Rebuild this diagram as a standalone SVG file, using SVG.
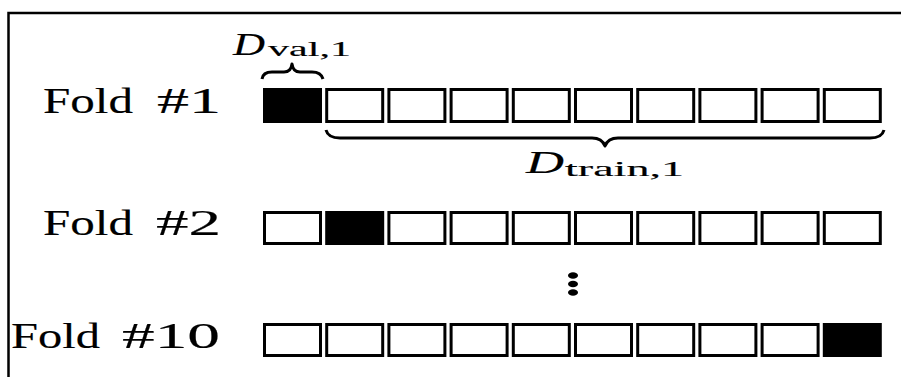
<svg xmlns="http://www.w3.org/2000/svg" width="901" height="377" viewBox="0 0 901 377">
<style>
.cell{fill:#fff;stroke:#000;stroke-width:3}
.val{fill:#000;stroke:#000;stroke-width:3}
.lbl{font-family:"Liberation Serif","DejaVu Serif",serif;font-size:36px;fill:#000;stroke:#000;stroke-width:0.15}
.math{font-family:"Liberation Serif","DejaVu Serif",serif;font-style:italic;font-size:31px;fill:#000;stroke:#000;stroke-width:0.15}
.sub{font-family:"Liberation Serif","DejaVu Serif",serif;font-size:21px;fill:#000;stroke:#000;stroke-width:0.15}
.brace{fill:none;stroke:#000;stroke-width:3;stroke-linejoin:round}
</style>
<rect width="901" height="377" fill="#fff"/>
<path d="M8.5,377 V13 H901" fill="none" stroke="#000" stroke-width="2.5"/>

<g id="fold1">
<text class="lbl" y="113"><tspan x="43" textLength="90" lengthAdjust="spacingAndGlyphs">Fold</tspan> <tspan x="157" textLength="64" lengthAdjust="spacingAndGlyphs">#1</tspan></text>
<rect class="val" x="264.5" y="89.5" width="56" height="32"/>
<rect class="cell" x="326.7" y="89.5" width="56" height="32"/>
<rect class="cell" x="388.9" y="89.5" width="56" height="32"/>
<rect class="cell" x="451.1" y="89.5" width="56" height="32"/>
<rect class="cell" x="513.3" y="89.5" width="56" height="32"/>
<rect class="cell" x="575.5" y="89.5" width="56" height="32"/>
<rect class="cell" x="637.7" y="89.5" width="56" height="32"/>
<rect class="cell" x="699.9" y="89.5" width="56" height="32"/>
<rect class="cell" x="762.1" y="89.5" width="56" height="32"/>
<rect class="cell" x="824.3" y="89.5" width="56" height="32"/>
</g>

<g id="dval">
<path class="brace" d="M262,79 Q263,72 272,72 L284,72 Q291,72 292,64 Q293,72 300,72 L312,72 Q321,72 323,79"/>
<text y="55"><tspan class="math" x="233" textLength="32" lengthAdjust="spacingAndGlyphs">D</tspan><tspan class="sub" x="268" y="56" textLength="83" lengthAdjust="spacingAndGlyphs">val,1</tspan></text>
</g>

<g id="dtrain">
<path class="brace" d="M326,130 Q328,138 340,138 L592,138 Q602,138 605,146 Q608,138 618,138 L870,138 Q882,138 884,130"/>
<text y="173"><tspan class="math" x="526" textLength="38" lengthAdjust="spacingAndGlyphs">D</tspan><tspan class="sub" x="565" y="176" textLength="119" lengthAdjust="spacingAndGlyphs">train,1</tspan></text>
</g>

<g id="fold2">
<text class="lbl" y="235"><tspan x="43" textLength="90" lengthAdjust="spacingAndGlyphs">Fold</tspan> <tspan x="156" textLength="65" lengthAdjust="spacingAndGlyphs">#2</tspan></text>
<rect class="cell" x="264.5" y="212.5" width="56" height="31"/>
<rect class="val" x="326.7" y="212.5" width="56" height="31"/>
<rect class="cell" x="388.9" y="212.5" width="56" height="31"/>
<rect class="cell" x="451.1" y="212.5" width="56" height="31"/>
<rect class="cell" x="513.3" y="212.5" width="56" height="31"/>
<rect class="cell" x="575.5" y="212.5" width="56" height="31"/>
<rect class="cell" x="637.7" y="212.5" width="56" height="31"/>
<rect class="cell" x="699.9" y="212.5" width="56" height="31"/>
<rect class="cell" x="762.1" y="212.5" width="56" height="31"/>
<rect class="cell" x="824.3" y="212.5" width="56" height="31"/>
</g>

<g id="vdots">
<ellipse cx="573" cy="275.5" rx="5" ry="3.3" fill="#000"/>
<ellipse cx="573" cy="284" rx="5" ry="3.3" fill="#000"/>
<ellipse cx="573" cy="292.5" rx="5" ry="3.3" fill="#000"/>
</g>

<g id="fold10">
<text class="lbl" y="348"><tspan x="11" textLength="89" lengthAdjust="spacingAndGlyphs">Fold</tspan> <tspan x="122" textLength="98" lengthAdjust="spacingAndGlyphs">#10</tspan></text>
<rect class="cell" x="264.5" y="324.5" width="56" height="31"/>
<rect class="cell" x="326.7" y="324.5" width="56" height="31"/>
<rect class="cell" x="388.9" y="324.5" width="56" height="31"/>
<rect class="cell" x="451.1" y="324.5" width="56" height="31"/>
<rect class="cell" x="513.3" y="324.5" width="56" height="31"/>
<rect class="cell" x="575.5" y="324.5" width="56" height="31"/>
<rect class="cell" x="637.7" y="324.5" width="56" height="31"/>
<rect class="cell" x="699.9" y="324.5" width="56" height="31"/>
<rect class="cell" x="762.1" y="324.5" width="56" height="31"/>
<rect class="val" x="824.3" y="324.5" width="56" height="31"/>
</g>
</svg>
